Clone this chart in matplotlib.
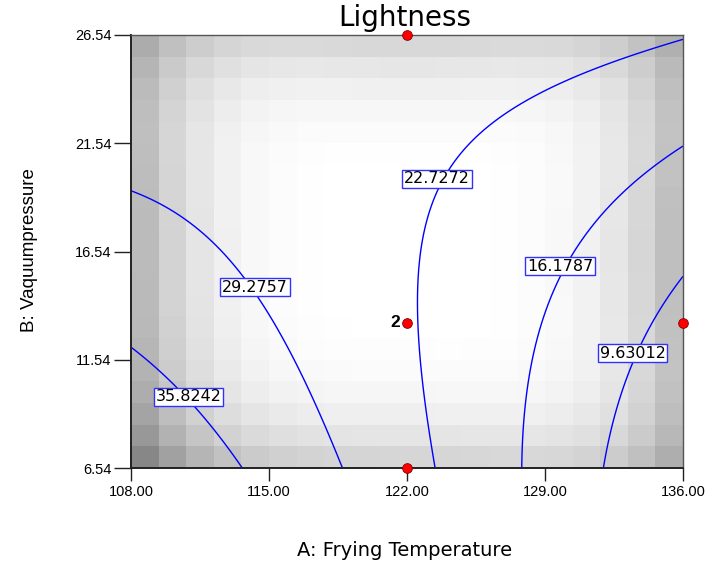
import numpy as np
import matplotlib
matplotlib.use("Agg")
import matplotlib.pyplot as plt

plt.rcParams['font.family'] = ['Liberation Sans', 'DejaVu Sans']

# Design ranges and tick values
temp_range = [108.00, 136.00]
pressure_range = [6.54, 26.54]
temp_ticks = [108.00, 115.00, 122.00, 129.00, 136.00]
pressure_ticks = [6.54, 11.54, 16.54, 21.54, 26.54]

# Quadratic model for Lightness in coded units (A, B)
coef_names = ['b0', 'A', 'B', 'AB', 'A2', 'B2']
coef_values = [23.246, -10.395, 0.677, 9.387, -2.095, 2.196]

# Contour levels and where their labels sit
levels = [9.63012, 16.1787, 22.7272, 29.2757, 35.8242]
label_temp = [133.46, 129.76, 123.52, 114.29, 110.94]
label_pressure = [11.85, 15.87, 19.89, 14.90, 9.82]

# Design points shown on the plot
point_temp = [122.0, 122.0, 122.0, 136.0]
point_pressure = [26.54, 13.24, 6.54, 13.24]
point_reps = [1, 2, 1, 1]

# Standard-error shading weights (left, right, bottom, top, cross, lower-left)
shade_w = [0.33, 0.31, 0.20, 0.19, -0.12, 0.17]

a_mid = (temp_range[0] + temp_range[1]) / 2
a_half = (temp_range[1] - temp_range[0]) / 2
b_mid = (pressure_range[0] + pressure_range[1]) / 2
b_half = (pressure_range[1] - pressure_range[0]) / 2


def lightness(a, b):
    u = (a - a_mid) / a_half
    v = (b - b_mid) / b_half
    c = dict(zip(coef_names, coef_values))
    return (c['b0'] + c['A'] * u + c['B'] * v + c['AB'] * u * v
            + c['A2'] * u ** 2 + c['B2'] * v ** 2)


fig = plt.figure(figsize=(7.15, 5.68), dpi=100)
ax = fig.add_axes([131 / 715, 1 - 468 / 568, 552 / 715, 433 / 568])

# blocky gray background
edges_a = np.linspace(temp_range[0], temp_range[1], 21)
edges_b = np.linspace(pressure_range[0], pressure_range[1], 21)
cu = ((edges_a[:-1] + edges_a[1:]) / 2 - a_mid) / a_half
cv = ((edges_b[:-1] + edges_b[1:]) / 2 - b_mid) / b_half
U, V = np.meshgrid(cu, cv)
wl, wr, wb, wt, wc, wll = shade_w
dark = (np.where(U < 0, wl, wr) * U ** 4 + np.where(V < 0, wb, wt) * V ** 4
        + wc * U ** 2 * V ** 2 + wll * (U < 0) * (V < 0) * U ** 2 * V ** 2)
ax.pcolormesh(edges_a, edges_b, 1 - dark, cmap='gray', vmin=0, vmax=1,
              shading='flat', zorder=0)

# contour lines
ga = np.linspace(temp_range[0], temp_range[1], 400)
gb = np.linspace(pressure_range[0], pressure_range[1], 400)
GA, GB = np.meshgrid(ga, gb)
ax.contour(GA, GB, lightness(GA, GB), levels=levels, colors='#0000ff',
           linewidths=1.0, zorder=2)

for lv, x, y in zip(levels, label_temp, label_pressure):
    ax.text(x, y, f'{lv:.6g}', ha='center', va='center', fontsize=11.5,
            family=['DejaVu Sans'], color='black', zorder=4,
            bbox=dict(boxstyle='square,pad=0.1', fc='white', ec='#3030ff', lw=1.0))

# design points
ax.plot(point_temp, point_pressure, 'o', color='#ff0000', mec='#800000', mew=0.6,
        ms=7, clip_on=False, zorder=5)
for x, y, n in zip(point_temp, point_pressure, point_reps):
    if n > 1:
        ax.annotate(str(n), (x, y), xytext=(-5, 0), textcoords='offset points',
                    ha='right', va='center', fontsize=12.5, fontweight='bold', zorder=5)

ax.set_xlim(*temp_range)
ax.set_ylim(*pressure_range)
ax.set_xticks(temp_ticks)
ax.set_xticklabels([f'{t:.2f}' for t in temp_ticks], fontsize=10.5)
ax.set_yticks(pressure_ticks)
ax.set_yticklabels([f'{t:.2f}' for t in pressure_ticks], fontsize=10.5)
ax.tick_params(axis='x', direction='out', length=9, width=1, color='#222222', pad=3)
ax.tick_params(axis='y', direction='out', length=12, width=1, color='#222222', pad=2)

for side in ['left', 'bottom']:
    ax.spines[side].set_color('#222222')
    ax.spines[side].set_linewidth(1.4)
for side in ['top', 'right']:
    ax.spines[side].set_color('#555555')
    ax.spines[side].set_linewidth(1.0)

fig.text(405 / 715, 1 - 18 / 568, 'Lightness', ha='center', va='center', fontsize=20,
         family=['DejaVu Sans'])
fig.text(405 / 715, 1 - 550 / 568, 'A: Frying Temperature', ha='center', va='center',
         fontsize=14, family=['DejaVu Sans'])
fig.text(30 / 715, 1 - 250 / 568, 'B: Vaquumpressure', ha='center', va='center',
         rotation=90, fontsize=13.5)

fig.savefig('out.png', dpi=100)
